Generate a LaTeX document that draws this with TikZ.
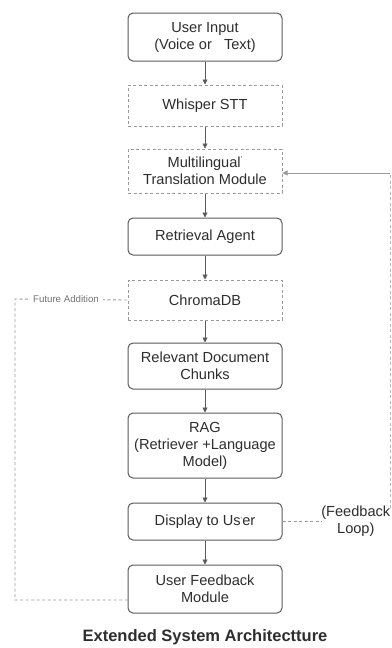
\documentclass[tikz,border=0pt]{standalone}
\usepackage{fontspec}
\setmainfont{Liberation Sans}
\usetikzlibrary{arrows.meta}
\definecolor{boxline}{HTML}{5A5A5A}
\definecolor{dashline}{HTML}{9A9A9A}
\definecolor{txt}{HTML}{2E2E2E}
\begin{document}
\begin{tikzpicture}[x=1pt,y=-1pt,
  every node/.style={text=txt,font=\fontsize{14.6}{17}\selectfont,align=center,inner sep=0pt},
  solidbox/.style={draw=boxline,line width=1pt,rounded corners=5pt,minimum width=154pt},
  dashbox/.style={draw=dashline,line width=1pt,dashed,dash pattern=on 3pt off 2.5pt,minimum width=154pt},
  flow/.style={draw=boxline,line width=0.9pt,-{Triangle[length=5pt,width=5pt]}},
  loop/.style={draw=dashline,line width=0.9pt,dash pattern=on 3pt off 2.5pt}]
\useasboundingbox[fill=white] (0,0) rectangle (391,648);
\node[solidbox,minimum height=48pt] (in) at (205,37) {User Input\\(Voice or\ \ \ Text)};
\node[dashbox,minimum height=41pt] (stt) at (205,105.5) {Whisper STT};
\node[dashbox,minimum height=44pt] (tr) at (205,171) {Multilingual{\raisebox{0.8ex}{\scriptsize '}}\\Translation Module};
\node[solidbox,minimum height=37pt] (ret) at (205,236.5) {Retrieval Agent};
\node[dashbox,minimum height=40pt] (db) at (205,300) {ChromaDB};
\node[solidbox,minimum height=46pt] (rel) at (205,366) {Relevant Document\\Chunks};
\node[solidbox,minimum height=65pt] (rag) at (205,445.5) {RAG\\(Retriever +Language\\Model)};
\node[solidbox,minimum height=37pt] (disp) at (205,521.5) {Display to Us{\raisebox{0.3ex}{\scriptsize '}}er};
\node[solidbox,minimum height=48pt] (fb) at (205,589) {User Feedback\\Module};
\node[font=\bfseries\fontsize{16.5}{19}\selectfont] (title) at (205,637) {Extended System Architectture};

\draw[flow] (in) -- (stt);
\draw[flow] (stt) -- (tr);
\draw[flow] (tr) -- (ret);
\draw[flow] (ret) -- (db);
\draw[flow] (db) -- (rel);
\draw[flow] (rel) -- (rag);
\draw[flow] (rag) -- (disp);
\draw[flow] (disp) -- (fb);

% feedback loop on the right
\node[anchor=east] (loopl) at (390.5,521.5) {(Feedback\\Loop)};
\draw[loop] (disp.east) -- (loopl.west);
\coordinate (rb) at (390,508);
\coordinate (rt) at (390,173);
\draw[loop,draw=dashline!70] (rb) -- (rt);
\draw[draw=dashline,line width=0.9pt,-{Triangle[length=5pt,width=5pt]}] (rt) -- (tr.east |- rt);

% future addition on the left
\coordinate (lb) at (15,600);
\coordinate (lt) at (15,299);
\draw[loop] (fb.west |- lb) -- (lb) -- (lt) -- (db.west);
\node[fill=white,inner xsep=4pt,inner ysep=2pt,text=black!55,font=\fontsize{9.7}{11}\selectfont] (fa) at (66,299) {Future Addition};
\end{tikzpicture}
\end{document}
